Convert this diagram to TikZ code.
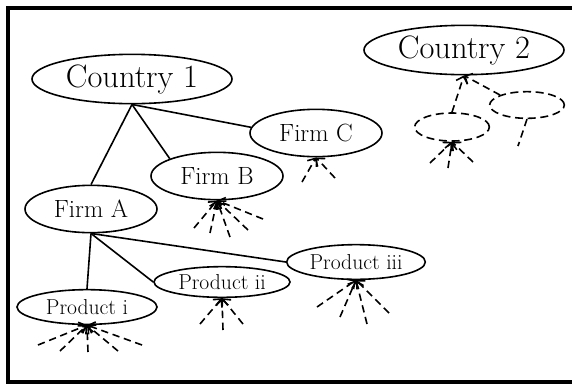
\documentclass[tikz,border=0pt]{standalone}
\usepackage{amsmath}
\usepackage{amssymb}
\usetikzlibrary{shapes.geometric,arrows.meta}

\begin{document}
\begin{tikzpicture}[x=0.75pt,y=0.75pt,yscale=-1,xscale=1,
  country/.style={ellipse, draw, line width=1.2pt, inner sep=0pt, minimum width=150pt, minimum height=37pt, font=\fontsize{24.3}{28}\selectfont},
  firm/.style={ellipse, draw, line width=1.2pt, inner sep=0pt, minimum width=99pt, minimum height=35.5pt, font=\fontsize{18.7}{22}\selectfont},
  product/.style={ellipse, draw, line width=1.2pt, inner sep=0pt, minimum height=26pt, font=\fontsize{16.2}{19}\selectfont},
  ghost/.style={ellipse, draw, line width=1.2pt, dash pattern={on 6pt off 3.5pt}, inner sep=0pt, minimum width=56pt, minimum height=21pt},
  tie/.style={line width=1.2pt},
  flow/.style={line width=1.2pt, dash pattern={on 5.5pt off 3.5pt}, -{Straight Barb[length=4.5pt,width=9pt,line width=1.2pt]}}]
\useasboundingbox (0,0) rectangle (572,383);

%Frame
\draw [line width=3pt] (8,8) -- (8,382) -- (610,382);
\draw [line width=3pt] (6,8) -- (610,8);

% Country 1 tree
\node [country] (c1) at (132,79) {Country 1};
\node [firm] (fA) at (91,209) {Firm A};
\node [firm] (fB) at (217,176) {Firm B};
\node [firm] (fC) at (316,133) {Firm C};
\node [product, minimum width=105pt] (p1) at (87,307) {Product i};
\node [product, minimum width=102pt, minimum height=23pt] (p2) at (222,282) {Product ii};
\node [product, minimum width=104pt] (p3) at (356,262) {Product iii};

% Country 2 tree
\node [country] (c2) at (464,50) {Country 2};
\node [ghost] (d1) at (452,127) {};
\node [ghost, minimum height=20pt] (d2) at (527,105) {};

%Straight Lines
\draw [tie] (c1.south) -- (fA.north);
\draw [tie] (c1.south) -- (fB.north west);
\draw [tie] (c1.south) -- (fC.175);
\draw [tie] (fA.south) -- (p1.north);
\draw [tie] (fA.south) -- (p2.west);
\draw [tie] (fA.south) -- (p3.west);

%Dashed Lines
\draw [flow] (d1.north) -- (c2.south);
\draw [flow] (d2.north west) -- (c2.south);
\coordinate (d2e) at (518,146);
\draw [line width=1.2pt, dash pattern={on 5.5pt off 3.5pt}] (d2.south) -- (d2e);

% Flows into Firm B
\coordinate (b1) at (194,228);
\coordinate (b2) at (210,233);
\coordinate (b3) at (230,237);
\coordinate (b4) at (248,230);
\coordinate (b5) at (263,219);
\draw [flow] (b1) -- (fB.south);
\draw [flow] (b2) -- (fB.south);
\draw [flow] (b3) -- (fB.south);
\draw [flow] (b4) -- (fB.south);
\draw [flow] (b5) -- (fB.south);

% Flows into Firm C
\coordinate (k1) at (302,182);
\coordinate (k2) at (335,178);
\draw [flow] (k1) -- (fC.south);
\draw [flow] (k2) -- (fC.south);

% Flows into Product i
\coordinate (i1) at (38,345);
\coordinate (i2) at (60,351);
\coordinate (i3) at (88,352);
\coordinate (i4) at (118,351);
\coordinate (i5) at (142,345);
\draw [flow] (i1) -- (p1.south);
\draw [flow] (i2) -- (p1.south);
\draw [flow] (i3) -- (p1.south);
\draw [flow] (i4) -- (p1.south);
\draw [flow] (i5) -- (p1.south);

% Flows into Product ii
\coordinate (ii1) at (200,324);
\coordinate (ii2) at (223,330);
\coordinate (ii3) at (243,324);
\draw [flow] (ii1) -- (p2.south);
\draw [flow] (ii2) -- (p2.south);
\draw [flow] (ii3) -- (p2.south);

% Flows into Product iii
\coordinate (iii1) at (317,307);
\coordinate (iii2) at (340,317);
\coordinate (iii3) at (367,324);
\coordinate (iii4) at (389,313);
\draw [flow] (iii1) -- (p3.south);
\draw [flow] (iii2) -- (p3.south);
\draw [flow] (iii3) -- (p3.south);
\draw [flow] (iii4) -- (p3.south);

% Flows into the dashed firm
\coordinate (g1) at (430,163);
\coordinate (g2) at (448,168);
\coordinate (g3) at (473,162);
\draw [flow] (g1) -- (d1.south);
\draw [flow] (g2) -- (d1.south);
\draw [flow] (g3) -- (d1.south);

\end{tikzpicture}
\end{document}
